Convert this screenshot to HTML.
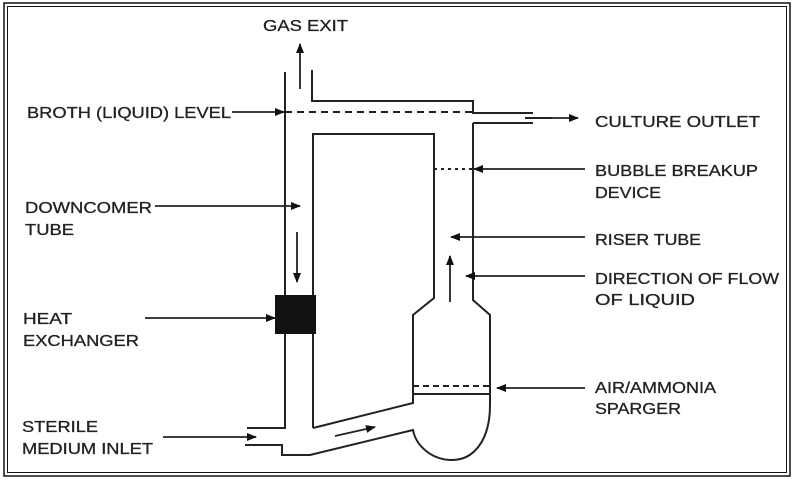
<!DOCTYPE html>
<html><head><meta charset="utf-8"><style>
html,body{margin:0;padding:0;background:#fff}
svg{display:block}
text{font-family:"Liberation Sans",sans-serif;font-size:16px;fill:#222;stroke:#222;stroke-width:0.3}
</style></head><body>
<svg width="795" height="482" viewBox="0 0 795 482" xmlns="http://www.w3.org/2000/svg">
<defs><marker id="a" markerWidth="10" markerHeight="8" refX="9" refY="4" orient="auto" markerUnits="userSpaceOnUse"><path d="M0,0L10,4L0,8z" fill="#111"/></marker></defs>
<rect x="4" y="3" width="786" height="473" fill="none" stroke="#111" stroke-width="1.5"/>
<rect x="7.5" y="6.5" width="779" height="466" fill="none" stroke="#111" stroke-width="1"/>
<g stroke="#222" stroke-width="2" fill="none">
<path d="M285,72V428H247"/>
<path d="M312,70V101H473V113H533"/>
<path d="M473,123H533"/>
<path d="M525,118H552"/>
<path d="M473,123V300L490,315V405C490,440 474,460 452,460C432,460 416,446 413,430L310,455H282V445H245"/>
<path d="M313,428V134H434V298L413,315V403L313,428"/>
<path d="M413,394H490"/>
</g>
<g stroke="#222" stroke-width="2" fill="none">
<path d="M285,112H473" stroke-dasharray="7,5"/>
<path d="M413,386H490" stroke-dasharray="6,4"/>
<path d="M434,169H472" stroke-dasharray="3,4"/>
</g>
<rect x="275" y="295" width="41" height="39" fill="#111"/>
<g stroke="#222" stroke-width="1.8" fill="none" marker-end="url(#a)">
<path d="M300,89V44"/>
<path d="M297,232V282"/>
<path d="M450,302V256"/>
<path d="M335,436L375,427"/>
<path d="M232,112H284"/>
<path d="M155,206H300"/>
<path d="M145,318H275"/>
<path d="M163,437H256"/>
<path d="M532,118H578"/>
<path d="M585,169H474"/>
<path d="M585,237H451"/>
<path d="M585,276H466"/>
<path d="M585,388H497"/>
</g>
<text x="263" y="31" textLength="85" lengthAdjust="spacingAndGlyphs">GAS EXIT</text>
<text x="27" y="118" textLength="204" lengthAdjust="spacingAndGlyphs">BROTH (LIQUID) LEVEL</text>
<text x="25" y="213" textLength="127" lengthAdjust="spacingAndGlyphs">DOWNCOMER</text>
<text x="25" y="235" textLength="49" lengthAdjust="spacingAndGlyphs">TUBE</text>
<text x="23" y="324" textLength="49" lengthAdjust="spacingAndGlyphs">HEAT</text>
<text x="23" y="346" textLength="116" lengthAdjust="spacingAndGlyphs">EXCHANGER</text>
<text x="22" y="432" textLength="76" lengthAdjust="spacingAndGlyphs">STERILE</text>
<text x="22" y="454" textLength="131" lengthAdjust="spacingAndGlyphs">MEDIUM INLET</text>
<text x="595" y="127" textLength="165" lengthAdjust="spacingAndGlyphs">CULTURE OUTLET</text>
<text x="595" y="176" textLength="163" lengthAdjust="spacingAndGlyphs">BUBBLE BREAKUP</text>
<text x="595" y="198" textLength="66" lengthAdjust="spacingAndGlyphs">DEVICE</text>
<text x="595" y="245" textLength="106" lengthAdjust="spacingAndGlyphs">RISER TUBE</text>
<text x="595" y="284" textLength="184" lengthAdjust="spacingAndGlyphs">DIRECTION OF FLOW</text>
<text x="595" y="305" textLength="100" lengthAdjust="spacingAndGlyphs">OF LIQUID</text>
<text x="595" y="393" textLength="121" lengthAdjust="spacingAndGlyphs">AIR/AMMONIA</text>
<text x="595" y="414" textLength="86" lengthAdjust="spacingAndGlyphs">SPARGER</text>
</svg>
</body></html>
